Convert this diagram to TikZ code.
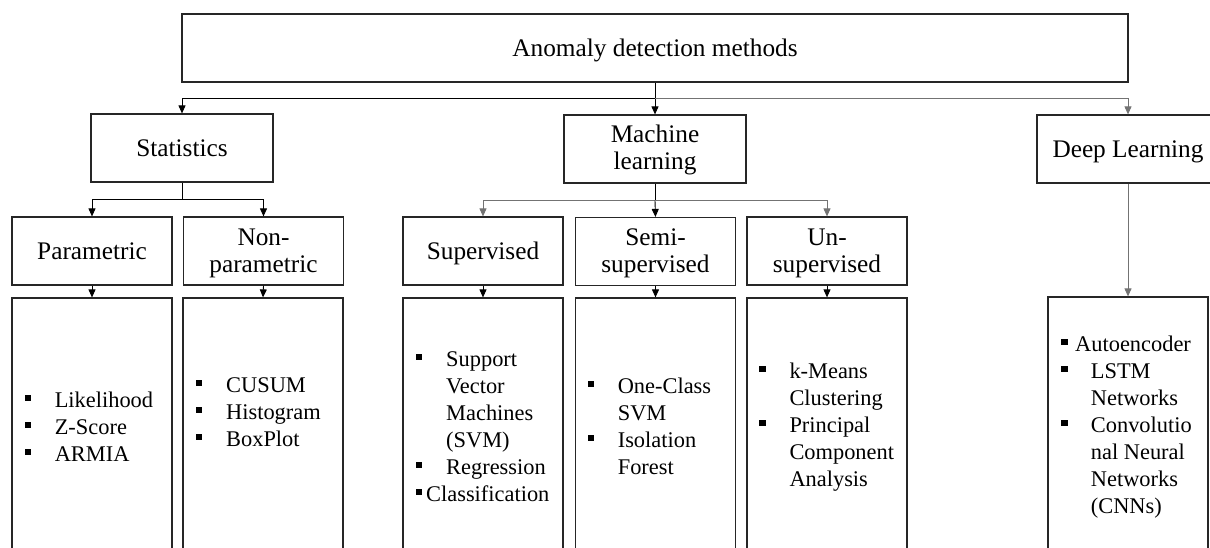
\documentclass[tikz,border=0pt]{standalone}
\usepackage{fontspec}
\setmainfont{Liberation Serif}
\usetikzlibrary{arrows.meta}

% text sizes: box titles and method lists
\newcommand\lfont{\fontsize{25.3}{27}\selectfont}
\newcommand\sfont{\fontsize{22.4}{27}\selectfont}
% square list bullet and a bullet cell of given width
\newcommand\sqbul{\rule[5.6pt]{6.5pt}{6.5pt}}
\newcommand\bl[1]{\makebox[#1pt][l]{\sqbul}}
\newcommand\gp{\hspace*{30.3pt}}

\begin{document}
\begin{tikzpicture}[x=1pt,y=-1pt,
  box/.style={draw=black!85, line width=1.2pt, fill=white, inner sep=0pt,
              font=\lfont, align=center, minimum height=68pt},
  wide/.style={minimum width=182pt},
  narrow/.style={minimum width=160pt},
  one/.style={text height=17pt, text depth=0pt},
  two/.style={text height=19pt, text depth=31pt},
  cbox/.style={draw=black!85, line width=1.2pt, inner sep=0pt,
               minimum width=160pt, minimum height=262pt},
  list/.style={inner sep=0pt, font=\sfont, anchor=base west},
  conn/.style={draw=black, line width=0.9pt},
  lite/.style={draw=black!55},
  tip/.style={-{Triangle[width=7pt,length=8pt]}}
  ]
\useasboundingbox (0,0) rectangle (1210,548);
\clip (0,0) rectangle (1210,548);

% root
\node[box,one,minimum width=946pt] (root) at (655,48) {Anomaly detection methods};

% first level
\node[box,one,wide] (stat) at (182,148) {Statistics};
\node[box,two,wide] (ml) at (655,149) {\begin{tabular}[t]{@{}c@{}}Machine\\learning\end{tabular}};
\node[box,one,wide] (deep) at (1128,149) {Deep Learning};

% second level
\node[box,one,narrow] (par) at (92,251) {Parametric};
\node[box,two,narrow] (npar) at (263.5,251) {\begin{tabular}[t]{@{}c@{}}Non-\\parametric\end{tabular}};
\node[box,one,narrow] (sup) at (483,251) {Supervised};
\node[box,two,narrow] (semi) at (655.5,251.5) {\begin{tabular}[t]{@{}c@{}}Semi-\\supervised\end{tabular}};
\node[box,two,narrow] (uns) at (827,251) {\begin{tabular}[t]{@{}c@{}}Un-\\supervised\end{tabular}};

% method boxes (running past the lower edge)
\node[cbox] (parc)  at (92,429) {};
\node[cbox] (nparc) at (263,429) {};
\node[cbox] (supc)  at (483,429) {};
\node[cbox] (semic) at (655.5,429) {};
\node[cbox] (unsc)  at (827,429) {};
\node[cbox] (deepc) at (1128,428) {};

% method lists
\node[list] (parl) at (24.3,407) {\begin{tabular}[t]{@{}l@{}}
  \bl{30.3}Likelihood\\ \bl{30.3}Z-Score\\ \bl{30.3}ARMIA\end{tabular}};
\node[list] (nparl) at (195.7,392) {\begin{tabular}[t]{@{}l@{}}
  \bl{30.3}CUSUM\\ \bl{30.3}Histogram\\ \bl{30.3}BoxPlot\end{tabular}};
\node[list] (supl) at (415.7,366) {\begin{tabular}[t]{@{}l@{}}
  \bl{30.3}Support\\ \gp Vector\\ \gp Machines\\ \gp (SVM)\\
  \bl{30.3}Regression\\ \bl{10.3}Classification\end{tabular}};
\node[list] (semil) at (587.3,393) {\begin{tabular}[t]{@{}l@{}}
  \bl{30.3}One-Class\\ \gp SVM\\ \bl{30.3}Isolation\\ \gp Forest\end{tabular}};
\node[list] (unsl) at (759,378) {\begin{tabular}[t]{@{}l@{}}
  \bl{30.3}k-Means\\ \gp Clustering\\ \bl{30.3}Principal\\
  \gp Component\\ \gp Analysis\end{tabular}};
\node[list] (deepl) at (1061,351) {\begin{tabular}[t]{@{}l@{}}
  \bl{14}Autoencoder\\ \bl{29.7}LSTM\\ \hspace*{29.7pt}Networks\\
  \bl{29.7}Convolutio\\ \hspace*{29.7pt}nal Neural\\
  \hspace*{29.7pt}Networks\\ \hspace*{29.7pt}(CNNs)\end{tabular}};

% root branches
\path (root.south) ++(0,16) coordinate (rj);
\draw[conn] (root.south) -- (rj);
\draw[conn,tip] (rj) -| (stat.north);
\draw[conn,tip] (rj) -- (ml.north);
\draw[conn,lite,tip] (rj) -| (deep.north);

% statistics branches
\path (stat.south) ++(0,17) coordinate (sj);
\draw[conn] (stat.south) -- (sj);
\draw[conn,tip] (sj) -| (par.north);
\draw[conn,tip] (sj) -| (npar.north);

% machine learning branches
\path (ml.south) ++(0,17) coordinate (mj);
\draw[conn] (ml.south) -- (mj);
\draw[conn,lite,tip] (mj) -| (sup.north);
\draw[conn,tip] (mj) -- (semi.north);
\draw[conn,lite,tip] (mj) -| (uns.north);

% into the method boxes
\draw[conn,tip] (par.south) -- (parc.north);
\draw[conn,tip] (npar.south) -- (nparc.north);
\draw[conn,tip] (sup.south) -- (supc.north);
\draw[conn,tip] (semi.south) -- (semic.north);
\draw[conn,tip] (uns.south) -- (unsc.north);
\draw[conn,lite,tip] (deep.south) -- (deepc.north);
\end{tikzpicture}
\end{document}
